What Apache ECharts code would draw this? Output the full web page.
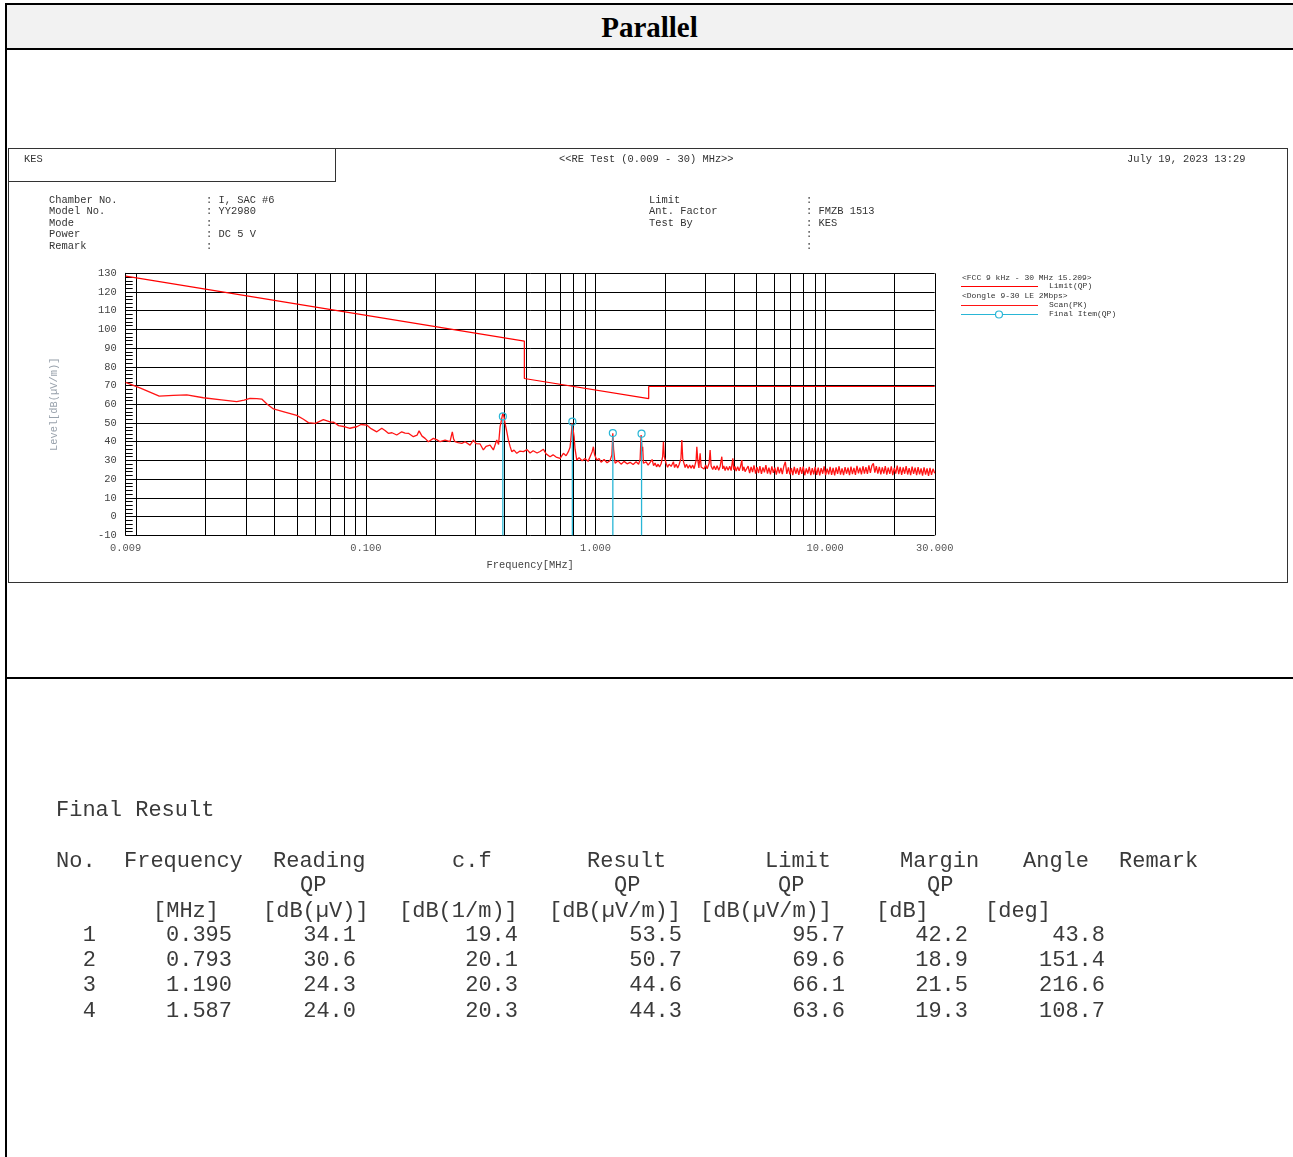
<!DOCTYPE html>
<html><head><meta charset="utf-8">
<script src="https://cdn.jsdelivr.net/npm/echarts@6/dist/echarts.min.js"></script>
<style>
html,body{margin:0;padding:0;width:1293px;height:1157px;overflow:hidden;background:#fff;}
#frame{position:absolute;left:5px;top:3px;width:1300px;height:1200px;border:2px solid #000;box-sizing:border-box;}
#hdr{position:absolute;left:0;top:0;right:0;height:43px;background:#f2f2f2;border-bottom:2px solid #000;}
#sep{position:absolute;left:0;right:0;top:672px;height:2px;background:#000;}
#title{position:absolute;left:0;width:1299px;top:12px;font:bold 29px 'Liberation Serif','Times New Roman',serif;line-height:30px;text-align:center;color:#000;}
#imgbox{position:absolute;left:8px;top:148px;width:1280px;height:435px;border:1px solid #333;box-sizing:border-box;}
#kesbox{position:absolute;left:8px;top:148px;width:328px;height:34px;border:1px solid #333;box-sizing:border-box;}
#chart{position:absolute;left:0;top:0;width:1293px;height:1157px;z-index:5;}
.t{position:absolute;font-family:'Liberation Mono',monospace;font-size:22px;line-height:22px;color:#3a3a3a;white-space:pre;z-index:6;}
</style></head>
<body>
<div id="frame"><div id="hdr"></div><div id="sep"></div></div>
<div id="title">Parallel</div>
<div id="imgbox"></div>
<div id="kesbox"></div>
<div id="chart"></div>
<script>
// ---------- DATA ----------
const freqTickLabels = ['0.009', '0.100', '1.000', '10.000', '30.000'];
const levelMin = -10, levelMax = 130, levelStep = 10;
const gridFreqs = [0.01,0.02,0.03,0.04,0.05,0.06,0.07,0.08,0.09,
  0.1,0.2,0.3,0.4,0.5,0.6,0.7,0.8,0.9,
  1,2,3,4,5,6,7,8,9,10,20,30];

// FCC 15.209 QP limit [MHz, dB(uV/m)]
const limitQP = [[0.009,128.5],[0.49,93.8],[0.49,73.8],[1.705,63.0],[1.705,69.5],[30,69.5]];

// Scan (PK) trace [MHz, dB(uV/m)]
const scanPK = [
 [0.009,71.7],[0.0105,68.5],[0.0126,64.4],[0.0145,64.8],[0.0166,65.0],[0.0196,63.5],[0.0235,62.4],
 [0.0274,61.4],[0.0295,62.2],[0.0313,63.2],[0.0335,63.0],[0.0352,62.8],[0.0372,60.0],[0.0396,57.5],
 [0.044,56.0],[0.050,54.1],[0.0535,52.0],[0.0562,50.2],[0.0603,49.8],[0.0653,51.8],[0.0698,50.6],
 [0.0725,50.4],[0.0761,48.6],[0.0812,48.0],[0.0853,47.2],[0.0880,47.6],[0.0913,48.0],[0.0953,49.2],
 [0.1009,48.9],[0.1054,47.0],[0.1116,45.3],[0.1173,47.2],[0.1212,46.0],[0.1253,44.5],[0.130,44.8],
 [0.1363,43.6],[0.1433,45.3],[0.1482,44.6],[0.1532,44.5],[0.1610,42.7],[0.1671,43.5],[0.1705,45.8],
 [0.1722,46.2],[0.1757,43.0],[0.1811,41.8],[0.1871,40.0],[0.1968,41.8],[0.2042,41.0],[0.2104,40.0],
 [0.2213,40.9],[0.2326,40.0],[0.2361,43.5],[0.2380,45.3],[0.2410,41.5],[0.2446,40.0],[0.2522,39.5],
 [0.2617,39.1],[0.2705,40.0],[0.2843,38.2],[0.2939,40.9],[0.3020,39.0],[0.3144,38.8],[0.3249,35.6],
 [0.3338,37.5],[0.3475,38.2],[0.3592,35.6],[0.3716,40.9],[0.3784,38.5],[0.3841,48.0],[0.390,52.0],
 [0.3947,55.2],[0.3999,53.0],[0.4038,49.8],[0.410,46.0],[0.4176,40.9],[0.4247,37.5],[0.4318,34.7],
 [0.4418,35.5],[0.4542,33.8],[0.4693,35.0],[0.4853,34.7],[0.5036,35.8],[0.5190,34.0],[0.5350,35.2],
 [0.5567,34.0],[0.5737,34.8],[0.5931,36.0],[0.6093,33.5],[0.6342,32.0],[0.6535,33.0],[0.6738,31.8],
 [0.7013,31.1],[0.7248,33.8],[0.7446,32.5],[0.7620,34.7],[0.7751,37.0],[0.7805,40.9],[0.7869,46.0],
 [0.7909,49.8],[0.7989,46.5],[0.8069,42.7],[0.8150,36.0],[0.8290,30.2],[0.8483,31.5],[0.8743,29.8],
 [0.9010,31.0],[0.9285,29.5],[0.9473,32.0],[0.9665,34.5],[0.9792,37.3],[0.991,33.0],[1.0131,30.2],
 [1.0368,31.0],[1.0578,29.0],[1.0901,30.5],[1.1233,28.8],[1.1576,30.0],[1.1787,33.0],[1.1894,44.5],
 [1.1989,36.0],[1.2171,28.5],[1.2543,29.8],[1.2926,28.0],[1.3321,29.5],[1.3728,28.2],[1.4148,29.0],
 [1.4581,27.8],[1.5026,29.3],[1.5407,28.0],[1.5644,30.5],[1.5800,43.6],[1.5959,35.0],[1.6050,37.3],
 [1.6166,28.5],[1.6614,29.2],[1.6950,27.5],[1.7293,26.7],[1.7643,30.5],[1.79,27.2],[1.8175,28.6],
 [1.845,26.6],[1.8734,28.0],[1.90,26.5],[1.9307,28.2],[1.9603,32.0],[1.9762,40.0],[1.9941,32.0],
 [2.0297,28.5],[2.06,26.4],[2.0920,28.0],[2.1344,26.8],[2.1841,29.3],[2.21,26.2],[2.2445,28.0],
 [2.28,26.0],[2.3131,27.8],[2.3553,31.0],[2.3768,40.9],[2.3982,31.0],[2.4563,26.2],[2.49,28.0],
 [2.5316,25.8],[2.57,27.6],[2.6090,25.9],[2.65,27.5],[2.6883,25.6],[2.7427,30.0],[2.7623,37.3],
 [2.7845,31.0],[2.82,26.0],[2.8554,33.8],[2.8842,26.5],[2.93,27.4],[2.9717,25.4],[3.02,27.6],
 [3.0626,25.6],[3.1250,28.5],[3.1561,35.6],[3.1878,27.0],[3.24,25.2],[3.2854,27.0],[3.3354,25.0],
 [3.3854,27.2],[3.44,24.8],[3.4892,26.8],[3.5491,32.0],[3.581,25.5],[3.62,27.0],[3.6685,24.6],
 [3.72,26.8],[3.7800,24.8],[3.84,26.9],[3.8961,24.6],[3.963,31.1],[3.999,25.0],[4.05,26.8],
 [4.0973,24.3],[4.16,26.6],[4.2215,24.5],[4.28,26.7],[4.3378,30.2],[4.373,24.5],[4.43,26.6],
 [4.4814,24.0],
 [4.55,23.4],[4.62,27.0],[4.69,23.2],[4.76,26.6],[4.83,23.8],[4.90,27.4],[4.98,22.9],[5.05,26.4],
 [5.13,23.3],[5.20,26.9],[5.28,22.8],[5.36,26.3],[5.44,23.6],[5.52,27.5],[5.61,23.0],[5.69,26.1],
 [5.78,22.6],[5.86,26.8],[5.95,23.4],[6.04,26.2],[6.13,22.4],[6.23,26.5],[6.32,23.1],[6.42,26.0],
 [6.51,22.7],[6.61,26.9],[6.71,29.3],[6.81,22.8],[6.92,26.3],[7.02,22.5],[7.13,25.9],[7.23,22.2],
 [7.34,26.6],[7.45,22.9],[7.57,25.8],[7.68,22.3],[7.80,26.4],[7.91,22.8],[8.03,26.7],[8.15,22.1],
 [8.28,25.7],[8.40,23.0],[8.53,26.5],[8.66,22.2],[8.79,25.9],[8.92,22.6],[9.05,26.6],[9.19,22.3],
 [9.33,26.1],[9.47,22.0],[9.61,25.9],[9.76,22.9],[9.90,26.8],[10.05,22.1],[10.2,25.6],[10.36,22.6],
 [10.51,26.5],[10.67,22.3],[10.83,26.0],[11.0,22.0],[11.16,26.3],[11.33,22.8],[11.5,26.9],[11.67,22.4],
 [11.85,25.8],[12.03,22.2],[12.21,26.4],[12.39,22.9],[12.58,26.1],[12.77,22.1],[12.96,26.7],[13.15,22.7],
 [13.35,26.0],[13.55,22.3],[13.76,27.1],[13.97,23.1],[14.18,26.2],[14.39,22.5],[14.61,26.9],[14.83,23.0],
 [15.05,26.4],[15.28,22.8],[15.51,27.4],[15.74,23.3],[15.98,27.2],[16.22,28.4],[16.46,23.5],[16.71,27.0],
 [16.96,22.9],[17.22,26.6],[17.48,22.6],[17.74,26.3],[18.01,23.0],[18.28,27.0],[18.55,22.4],[18.83,26.2],
 [19.12,22.8],[19.41,26.8],[19.7,22.2],[20.0,26.0],[20.3,23.0],[20.6,27.3],[20.91,22.7],[21.22,26.5],
 [21.54,22.3],[21.87,26.3],[22.2,22.9],[22.53,27.0],[22.87,22.5],[23.22,25.9],[23.57,22.1],[23.92,26.7],
 [24.28,22.8],[24.65,26.2],[25.02,22.2],[25.4,26.4],[25.78,22.6],[26.17,25.8],[26.56,21.9],[26.96,26.3],
 [27.37,22.4],[27.78,25.7],[28.2,21.8],[28.62,26.0],[29.05,22.3],[29.49,25.5],[30.0,23.2]
];

// Final Result table
const finalNo      = ['1', '2', '3', '4'];
const finalFreq    = [0.395, 0.793, 1.190, 1.587];
const finalReading = [34.1, 30.6, 24.3, 24.0];
const finalCF      = [19.4, 20.1, 20.3, 20.3];
const finalResult  = [53.5, 50.7, 44.6, 44.3];
const finalLimit   = [95.7, 69.6, 66.1, 63.6];
const finalMargin  = [42.2, 18.9, 21.5, 19.3];
const finalAngle   = [43.8, 151.4, 216.6, 108.7];

const headRow1 = ['No.', 'Frequency', 'Reading', 'c.f', 'Result', 'Limit', 'Margin', 'Angle', 'Remark'];
const headRow2 = ['QP', 'QP', 'QP', 'QP'];
const headRow3 = ['[MHz]', '[dB(\u00b5V)]', '[dB(1/m)]', '[dB(\u00b5V/m)]', '[dB(\u00b5V/m)]', '[dB]', '[deg]'];

const infoLeftLabels  = ['Chamber No.', 'Model No.', 'Mode', 'Power', 'Remark'];
const infoLeftValues  = [': I, SAC #6', ': YY2980', ':', ': DC 5 V', ':'];
const infoRightLabels = ['Limit', 'Ant. Factor', 'Test By', '', ''];
const infoRightValues = [':', ': FMZB 1513', ': KES', ':', ':'];

// ---------- HTML table ----------
function put(text, x, yc, align) {
  const d = document.createElement('div');
  d.className = 't';
  d.textContent = text;
  if (align === 'right') d.style.right = (1293 - x) + 'px'; else d.style.left = x + 'px';
  d.style.top = (yc - 10) + 'px';
  document.body.appendChild(d);
}
put('Final Result', 56, 810);
const h1x = [56, 124, 273, 452, 587, 765, 900, 1023, 1119];
headRow1.forEach((s, i) => put(s, h1x[i], 861));
const h2x = [300, 614, 778, 927];
headRow2.forEach((s, i) => put(s, h2x[i], 885));
const h3x = [153, 263, 399, 549, 700, 876, 985];
headRow3.forEach((s, i) => put(s, h3x[i], 911));
const rowY = [935, 960, 985, 1011];
const colR = [96, 232, 356, 518, 682, 845, 968, 1105];
finalNo.forEach((n, i) => {
  const cells = [n, finalFreq[i].toFixed(3), finalReading[i].toFixed(1), finalCF[i].toFixed(1),
    finalResult[i].toFixed(1), finalLimit[i].toFixed(1), finalMargin[i].toFixed(1), finalAngle[i].toFixed(1)];
  cells.forEach((c, j) => put(c, colR[j], rowY[i], 'right'));
});

// ---------- CHART ----------
const MONO = 'Liberation Mono';
const chart = echarts.init(document.getElementById('chart'), null, {renderer: 'canvas'});
const graphics = [];
function gtext(text, x, y, size, fill) {
  graphics.push({type: 'text', x: x, y: y, silent: true,
    style: {text: text, fontFamily: MONO, fontSize: size, fill: fill || '#333', align: 'left', verticalAlign: 'middle'}});
}
gtext('KES', 24, 159, 10.4);
gtext('<<RE Test (0.009 - 30) MHz>>', 559, 159, 10.4);
gtext('July 19, 2023 13:29', 1127, 159, 10.4);
infoLeftLabels.forEach((s, i) => { gtext(s, 49, 200 + i * 11.5, 10.4); gtext(infoLeftValues[i], 206, 200 + i * 11.5, 10.4); });
infoRightLabels.forEach((s, i) => { if (s) gtext(s, 649, 200 + i * 11.5, 10.4); gtext(infoRightValues[i], 806, 200 + i * 11.5, 10.4); });
// legend
gtext('<FCC 9 kHz - 30 MHz 15.209>', 962, 278, 8);
graphics.push({type: 'line', silent: true, shape: {x1: 961, y1: 286.5, x2: 1038, y2: 286.5}, style: {stroke: '#ff0000', lineWidth: 1.2}});
gtext('Limit(QP)', 1049, 286, 8);
gtext('<Dongle 9-30 LE 2Mbps>', 962, 296, 8);
graphics.push({type: 'line', silent: true, shape: {x1: 961, y1: 305.5, x2: 1038, y2: 305.5}, style: {stroke: '#ff1414', lineWidth: 1.2}});
gtext('Scan(PK)', 1049, 305, 8);
graphics.push({type: 'line', silent: true, shape: {x1: 961, y1: 314.5, x2: 1038, y2: 314.5}, style: {stroke: '#29b6d6', lineWidth: 1.2}});
graphics.push({type: 'circle', silent: true, shape: {cx: 999, cy: 314.5, r: 3.5}, style: {stroke: '#29b6d6', fill: '#fff', lineWidth: 1.2}});
gtext('Final Item(QP)', 1049, 314, 8);

const tickVals = freqTickLabels.map(Number);

chart.setOption({
  animation: false,
  backgroundColor: 'transparent',
  grid: {left: 125.7, top: 273.3, width: 809, height: 262, containLabel: false},
  xAxis: {
    type: 'log', logBase: 10, min: 0.009, max: 30,
    axisLine: {show: true, lineStyle: {color: '#000', width: 1}},
    axisTick: {show: false},
    splitLine: {show: false},
    axisLabel: {
      show: true, margin: 8, color: '#555', fontFamily: MONO, fontSize: 10.4,
      showMinLabel: true, showMaxLabel: true,
      formatter: function (v) {
        for (let i = 0; i < tickVals.length; i++) {
          if (Math.abs(Math.log10(tickVals[i]) - Math.log10(v)) < 1e-6) return freqTickLabels[i];
        }
        return '';
      }
    },
    name: 'Frequency[MHz]', nameLocation: 'middle', nameGap: 25,
    nameTextStyle: {color: '#444', fontFamily: MONO, fontSize: 10.4}
  },
  yAxis: {
    type: 'value', min: levelMin, max: levelMax, interval: levelStep,
    axisLine: {show: true, lineStyle: {color: '#000', width: 1}},
    axisTick: {show: true, inside: true, length: 7, lineStyle: {color: '#000'}},
    minorTick: {show: true, splitNumber: 5, length: 7, lineStyle: {color: '#000'}},
    splitLine: {show: true, lineStyle: {color: '#000', width: 1}},
    axisLabel: {color: '#444', fontFamily: MONO, fontSize: 10.4, margin: 9},
    name: 'Level[dB(\u00b5V/m)]', nameLocation: 'middle', nameGap: 66,
    nameTextStyle: {color: '#9aa3ad', fontFamily: MONO, fontSize: 10.4}
  },
  graphic: graphics,
  series: [
    {
      type: 'custom', silent: true, z: 1,
      data: gridFreqs.map(f => [f, levelMax]),
      renderItem: function (params, api) {
        const p1 = api.coord([api.value(0), levelMin]);
        const p2 = api.coord([api.value(0), levelMax]);
        const x = Math.round(p1[0]) + 0.5;
        return {type: 'line', shape: {x1: x, y1: p1[1], x2: x, y2: p2[1]}, style: {stroke: '#000', lineWidth: 1}};
      }
    },
    {
      name: 'Scan(PK)', type: 'line', data: scanPK, symbol: 'none', z: 2, silent: true,
      lineStyle: {color: '#ff1414', width: 1.3}
    },
    {
      name: 'Limit(QP)', type: 'line', data: limitQP, symbol: 'none', z: 3, silent: true,
      lineStyle: {color: '#ff0000', width: 1.2}
    },
    {
      name: 'Final Item(QP)', type: 'custom', z: 4, silent: true,
      data: finalFreq.map((f, i) => [f, finalResult[i]]),
      renderItem: function (params, api) {
        const top = api.coord([api.value(0), api.value(1)]);
        const bot = api.coord([api.value(0), levelMin]);
        return {type: 'group', children: [
          {type: 'line', shape: {x1: top[0], y1: top[1] + 3.5, x2: bot[0], y2: bot[1]}, style: {stroke: '#29b6d6', lineWidth: 1.3}},
          {type: 'circle', shape: {cx: top[0], cy: top[1], r: 3.5}, style: {stroke: '#29b6d6', fill: 'none', lineWidth: 1.2}}
        ]};
      }
    }
  ]
});
</script>
</body></html>
